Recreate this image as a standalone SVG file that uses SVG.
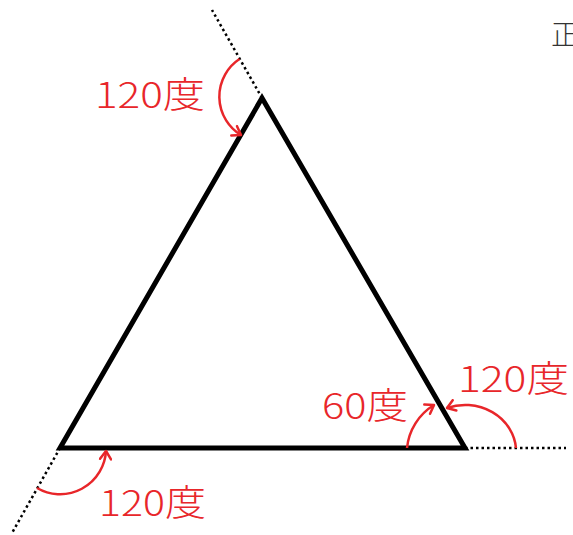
<svg xmlns="http://www.w3.org/2000/svg" width="573" height="535" viewBox="0 0 573 535">
<style>
.tri{fill:none;stroke:#000;stroke-width:5;stroke-linejoin:miter}
.dot{fill:none;stroke:#000;stroke-width:2.5;stroke-dasharray:2.5 3}
.arc{fill:none;stroke:#e8262a;stroke-width:2.5;marker-end:url(#ah)}
.lbl{font-family:"Noto Sans CJK JP","Noto Sans",sans-serif;font-size:36px;font-weight:300;fill:#e8262a}
.ttl{font-family:"Noto Sans CJK JP","Noto Sans",sans-serif;font-size:28px;font-weight:300;fill:#333}
</style>
<defs>
<marker id="ah" viewBox="-10 -7 12 14" markerWidth="12" markerHeight="14" refX="0" refY="0" orient="auto" markerUnits="userSpaceOnUse">
<path d="M-8,-5.5 L0,0 L-8,5.5" fill="none" stroke="#e8262a" stroke-width="2.5" stroke-linecap="round" stroke-linejoin="round"/>
</marker>
</defs>
<rect width="573" height="535" fill="#fff"/>
<text class="ttl" x="551" y="45">正</text>
<g id="triangle">
<polygon class="tri" points="262,98 60,448 465,448"/>
</g>
<g id="extensions">
<line class="dot" x1="262" y1="98" x2="212" y2="10"/>
<line class="dot" x1="60" y1="448" x2="12" y2="533"/>
<line class="dot" x1="465" y1="448" x2="566" y2="448"/>
</g>
<g id="connectors">
<path class="arc" d="M239.5,59 A45,45 0 0 0 241,135"/>
<path class="arc" d="M37,488 A46,46 0 0 0 106,451"/>
<path class="arc" d="M407,448 A57,57 0 0 1 434,405"/>
<path class="arc" d="M516,448 A51,47 0 0 0 447,408"/>
</g>
<g id="label-top"><text class="lbl" x="95" y="108" textLength="110" lengthAdjust="spacingAndGlyphs">120度</text></g>
<g id="label-bl"><text class="lbl" x="99" y="516" textLength="107" lengthAdjust="spacingAndGlyphs">120度</text></g>
<g id="label-br"><text class="lbl" x="458" y="392" textLength="111" lengthAdjust="spacingAndGlyphs">120度</text></g>
<g id="label-60"><text class="lbl" x="322" y="419" textLength="86" lengthAdjust="spacingAndGlyphs">60度</text></g>
</svg>
